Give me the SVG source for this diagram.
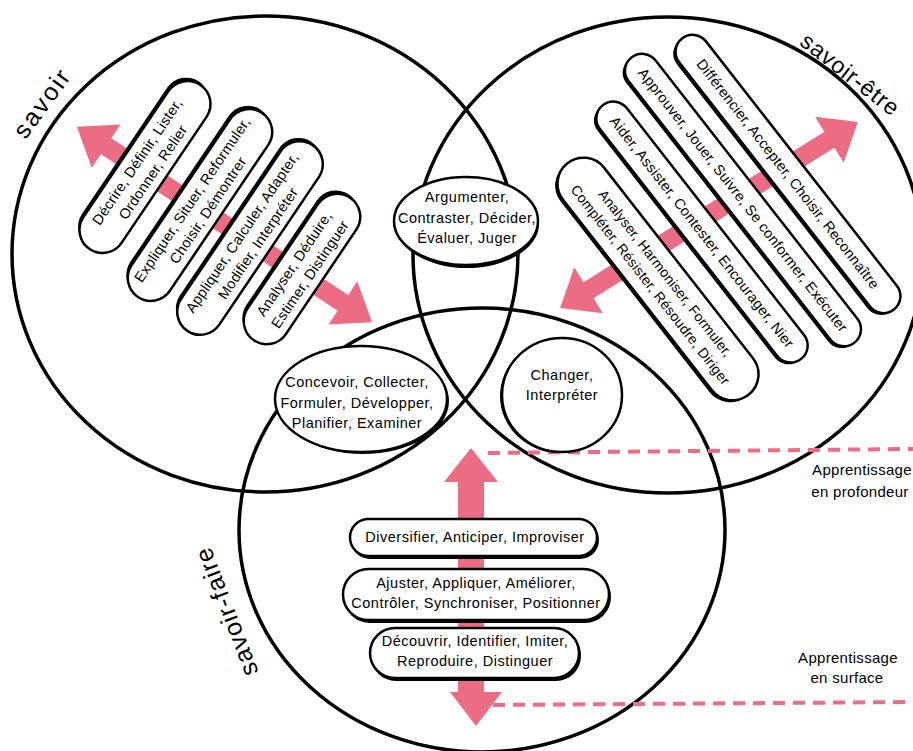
<svg xmlns="http://www.w3.org/2000/svg" width="913" height="751" viewBox="0 0 913 751">
<style>
.c{fill:none;stroke:#000;stroke-width:3.5}
.n{fill:#fff;stroke:#000;stroke-width:2.5}
.s{fill:#000}
.t{font-family:"Liberation Sans",Arial,sans-serif;font-size:14.5px;letter-spacing:0.5px;text-anchor:middle;fill:#000}
.r{letter-spacing:0.25px}
.lbl{font-family:"Liberation Sans",Arial,sans-serif;font-size:25px;text-anchor:middle;fill:#000}
.a{fill:#EC6D83}
.d{fill:none;stroke:#EC6D83;stroke-width:4;stroke-dasharray:12 8}
</style>
<rect width="913" height="751" fill="#fff"/>
<g id="circles">
<ellipse id="c-savoir" class="c" cx="265" cy="254" rx="253" ry="238"/>
<ellipse id="c-savoir-etre" class="c" cx="668" cy="255" rx="255" ry="238"/>
<ellipse id="c-savoir-faire" class="c" cx="482" cy="530" rx="243" ry="222"/>
</g>
<g id="labels">
<text class="lbl" transform="translate(42,104) rotate(-54)" dy="8" textLength="78">savoir</text>
<text class="lbl" transform="translate(850,74) rotate(38)" dy="8" style="font-size:23px" textLength="118">savoir-être</text>
<text class="lbl" transform="translate(227,612) rotate(-111)" dy="8" textLength="135">savoir-faire</text>
<text class="t" x="862" y="475" style="font-size:15px;letter-spacing:0.3px">Apprentissage</text>
<text class="t" x="860" y="497" style="font-size:15px;letter-spacing:0.3px">en profondeur</text>
<text class="t" x="848" y="663" style="font-size:15px;letter-spacing:0.3px">Apprentissage</text>
<text class="t" x="847" y="683" style="font-size:15px;letter-spacing:0.3px">en surface</text>
</g>
<g id="connectors">
<polygon class="a" transform="translate(224.5,224.5) rotate(33.5)" points="-177,0 -142,-26 -142,-9.5 142,-9.5 142,-26 177,0 142,26 142,9.5 -142,9.5 -142,26"/>
<polygon class="a" transform="translate(709,215) rotate(-32)" points="-175.5,0 -142,-27 -142,-9.5 142,-9.5 142,-27 175.5,0 142,27 142,9.5 -142,9.5 -142,27"/>
<polygon class="a" points="471,448 498,482 484,482 484,692 502,692 476,726 450,692 458,692 458,482 444,482"/>
<path class="d" d="M488,453 L913,449"/>
<path class="d" d="M493,705 L913,702"/>
</g>
<g id="n-savoir-1" transform="translate(145,167) rotate(-56)">
<rect class="s" x="-97" y="-26" width="198" height="46" rx="23"/>
<rect class="n" x="-99" y="-23" width="198" height="46" rx="23"/>
<text class="t r" y="-4.5">Décrire, Définir, Lister,</text>
<text class="t r" y="14.5">Ordonner, Relier</text>
</g>
<g id="n-savoir-2" transform="translate(200,205) rotate(-56)">
<rect class="s" x="-109" y="-26" width="222" height="46" rx="23"/>
<rect class="n" x="-111" y="-23" width="222" height="46" rx="23"/>
<text class="t r" y="-4.5">Expliquer, Situer, Reformuler,</text>
<text class="t r" y="14.5">Choisir, Démontrer</text>
</g>
<g id="n-savoir-3" transform="translate(250,238) rotate(-56)">
<rect class="s" x="-110" y="-26" width="224" height="46" rx="23"/>
<rect class="n" x="-112" y="-23" width="224" height="46" rx="23"/>
<text class="t r" y="-4.5">Appliquer, Calculer, Adapter,</text>
<text class="t r" y="14.5">Modifier, Interpréter</text>
</g>
<g id="n-savoir-4" transform="translate(302,269) rotate(-56)">
<rect class="s" x="-84" y="-26" width="172" height="46" rx="23"/>
<rect class="n" x="-86" y="-23" width="172" height="46" rx="23"/>
<text class="t r" y="-4.5">Analyser, Déduire,</text>
<text class="t r" y="14.5">Estimer, Distinguer</text>
</g>
<g id="n-etre-1" transform="translate(788,174) rotate(52)">
<rect class="s" x="-172" y="-14" width="344" height="34" rx="17"/>
<rect class="n" x="-172" y="-17" width="344" height="34" rx="17"/>
<text class="t r" y="5">Différencier, Accepter, Choisir, Reconnaître</text>
</g>
<g id="n-etre-2" transform="translate(743,200) rotate(52)">
<rect class="s" x="-181" y="-14" width="362" height="34" rx="17"/>
<rect class="n" x="-181" y="-17" width="362" height="34" rx="17"/>
<text class="t r" y="5">Approuver, Jouer, Suivre, Se conformer, Exécuter</text>
</g>
<g id="n-etre-3" transform="translate(702,232) rotate(52)">
<rect class="s" x="-161" y="-14" width="322" height="34" rx="17"/>
<rect class="n" x="-161" y="-17" width="322" height="34" rx="17"/>
<text class="t r" y="5">Aider, Assister, Contester, Encourager, Nier</text>
</g>
<g id="n-etre-4" transform="translate(658,279) rotate(52)">
<rect class="s" x="-147" y="-23" width="294" height="52" rx="26"/>
<rect class="n" x="-147" y="-26" width="294" height="52" rx="26"/>
<text class="t r" y="-4.5" style="font-size:14px">Analyser, Harmoniser, Formuler,</text>
<text class="t r" y="14.5" style="font-size:14px">Compléter, Résister, Résoudre, Diriger</text>
</g>
<g id="n-argumenter">
<ellipse class="s" cx="467" cy="224" rx="72" ry="44"/>
<ellipse class="n" cx="466" cy="221" rx="72" ry="44"/>
<text class="t" x="467" y="202">Argumenter,</text>
<text class="t" x="467" y="223">Contraster, Décider,</text>
<text class="t" x="467" y="243">Évaluer, Juger</text>
</g>
<g id="n-concevoir">
<ellipse class="s" cx="363" cy="401" rx="86" ry="53"/>
<ellipse class="n" cx="361" cy="399" rx="86" ry="53"/>
<text class="t" x="357" y="387">Concevoir, Collecter,</text>
<text class="t" x="357" y="408">Formuler, Développer,</text>
<text class="t" x="357" y="428">Planifier, Examiner</text>
</g>
<g id="n-changer">
<ellipse class="s" cx="560" cy="396" rx="60" ry="57"/>
<ellipse class="n" cx="562" cy="395" rx="60" ry="57"/>
<text class="t" x="562" y="380">Changer,</text>
<text class="t" x="562" y="400">Interpréter</text>
</g>
<g id="n-diversifier">
<rect class="s" x="351" y="521" width="248" height="38" rx="19"/>
<rect class="n" x="350" y="519" width="247" height="37" rx="18.5"/>
<text class="t" x="475" y="542">Diversifier, Anticiper, Improviser</text>
</g>
<g id="n-ajuster">
<rect class="s" x="344" y="571" width="267" height="52" rx="26"/>
<rect class="n" x="343" y="569" width="266" height="51" rx="25.5"/>
<text class="t" x="476" y="588">Ajuster, Appliquer, Améliorer,</text>
<text class="t" x="476" y="608">Contrôler, Synchroniser, Positionner</text>
</g>
<g id="n-decouvrir">
<rect class="s" x="371" y="630" width="210" height="51" rx="25"/>
<rect class="n" x="370" y="628" width="209" height="50" rx="25"/>
<text class="t" x="475" y="646">Découvrir, Identifier, Imiter,</text>
<text class="t" x="475" y="666">Reproduire, Distinguer</text>
</g>
</svg>
